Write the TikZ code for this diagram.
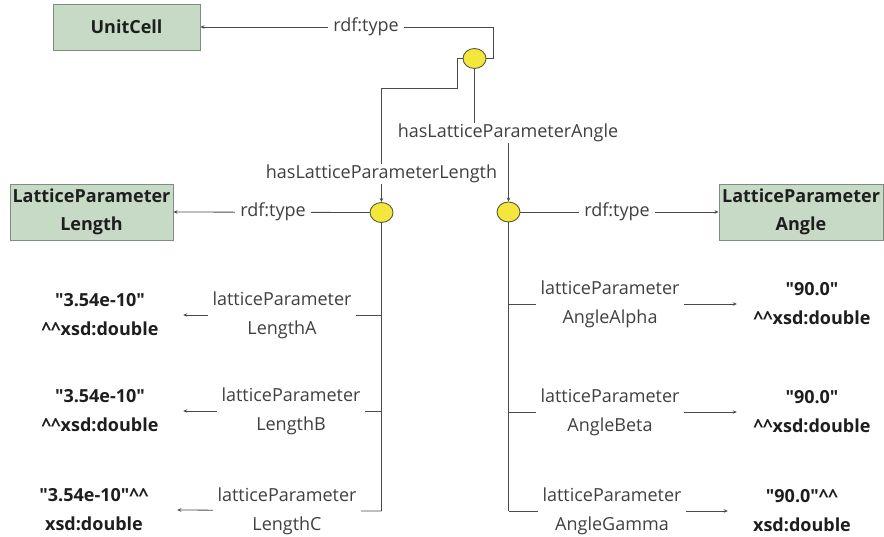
\documentclass[tikz,border=0pt]{standalone}
\usepackage{fontspec}
\setmainfont{Open Sans}
\usetikzlibrary{arrows.meta,shapes.geometric}
\definecolor{clsfill}{HTML}{C6DAC6}
\definecolor{clsdraw}{HTML}{7E8E7E}
\definecolor{bnfill}{HTML}{F4E63C}
\definecolor{bndraw}{HTML}{5A5A3A}
\definecolor{edgecol}{HTML}{4A4A4A}
\definecolor{txtcol}{HTML}{1E1E1E}
\newcommand{\qd}{\textquotedbl}
\newcommand{\hats}{\textasciicircum\textasciicircum}
\begin{document}
\begin{tikzpicture}[x=1pt,y={(0pt,-1pt)},
  font=\fontsize{18}{29}\selectfont,
  cls/.style={draw=clsdraw,fill=clsfill,line width=0.9pt,align=center,
    font=\fontsize{18}{28}\selectfont\bfseries,text=txtcol,inner sep=0pt},
  bnode/.style={ellipse,draw=bndraw,fill=bnfill,line width=0.9pt,
    minimum width=23,minimum height=20,inner sep=0pt},
  edge/.style={draw=edgecol,line width=0.8pt},
  arr/.style={edge,-{Stealth[length=4pt,width=3.5pt]}},
  lbl/.style={fill=white,text=txtcol!85!white,align=center,inner xsep=5pt,inner ysep=1pt},
  lit/.style={align=center,font=\fontsize{18}{29}\selectfont\bfseries,text=txtcol,inner sep=0pt},
]
\useasboundingbox (0,0) rectangle (884,537);

% classes
\node[cls,minimum width=147,minimum height=46] (unit) at (126.5,27) {UnitCell};
\node[cls,minimum width=163,minimum height=56] (lpl) at (91.5,212) {LatticeParameter\\Length};
\node[cls,minimum width=164,minimum height=56] (lpa) at (801,212) {LatticeParameter\\Angle};

% blank nodes
\node[bnode] (b0) at (474.5,58.5) {};
\node[bnode] (bL) at (381.5,212.5) {};
\node[bnode] (bA) at (508.5,212) {};

% literals
\node[lit,minimum width=166] (litA) at (100,315) {\qd3.54e-10\qd\\\hats xsd:double};
\node[lit,minimum width=166] (litB) at (100,411) {\qd3.54e-10\qd\\\hats xsd:double};
\node[lit,minimum width=166] (litC) at (94,510) {\qd3.54e-10\qd\hats\\xsd:double};
\node[lit,minimum width=150] (litAl) at (812,304) {\qd90.0\qd\\\hats xsd:double};
\node[lit,minimum width=150] (litBe) at (812,412) {\qd90.0\qd\\\hats xsd:double};
\node[lit,minimum width=148] (litGa) at (802,511) {\qd90.0\qd\hats\\xsd:double};

% bends and branch points
\coordinate (c1) at (493,27);
\coordinate (c2) at (457,88);
\coordinate (c3) at (474.5,133);
\coordinate (ltrunk) at (381.5,511);
\coordinate (la) at (381.5,315);
\coordinate (lb) at (381.5,411);
\coordinate (rtrunk) at (508.5,511);
\coordinate (ra) at (508.5,304);
\coordinate (rb) at (508.5,412);

% top blank node
\draw[arr] (b0.east) -| (c1) -- (unit.east);
\node[lbl] (t0) at (366,27) {rdf:type};
\draw[arr] (b0.west) -| (c2) -| (bL.north);
\node[lbl] (hL) at (381.5,174) {hasLatticeParameterLength};
\draw[arr] (b0.south) -- (c3) -| (bA.north);
\node[lbl] (hA) at (508,133) {hasLatticeParameterAngle};

% length blank node
\draw[arr] (bL.west) -- (lpl.east);
\node[lbl] (tL) at (273,212) {rdf:type};
\draw[edge] (bL.south) -- (ltrunk);
\draw[arr] (la) -- (litA.east);
\node[lbl] (pA) at (282,315) {latticeParameter\\LengthA};
\draw[arr] (lb) -- (litB.east);
\node[lbl] (pB) at (291,411) {latticeParameter\\LengthB};
\draw[arr] (ltrunk) -- (litC.east);
\node[lbl] (pC) at (287,511) {latticeParameter\\LengthC};

% angle blank node
\draw[arr] (bA.east) -- (lpa.west);
\node[lbl] (tA) at (617,212) {rdf:type};
\draw[edge] (bA.south) -- (rtrunk);
\draw[arr] (ra) -- (litAl.west);
\node[lbl] (pAl) at (610,304) {latticeParameter\\AngleAlpha};
\draw[arr] (rb) -- (litBe.west);
\node[lbl] (pBe) at (610,412) {latticeParameter\\AngleBeta};
\draw[arr] (rtrunk) -- (litGa.west);
\node[lbl] (pGa) at (612,511) {latticeParameter\\AngleGamma};
\end{tikzpicture}
\end{document}
